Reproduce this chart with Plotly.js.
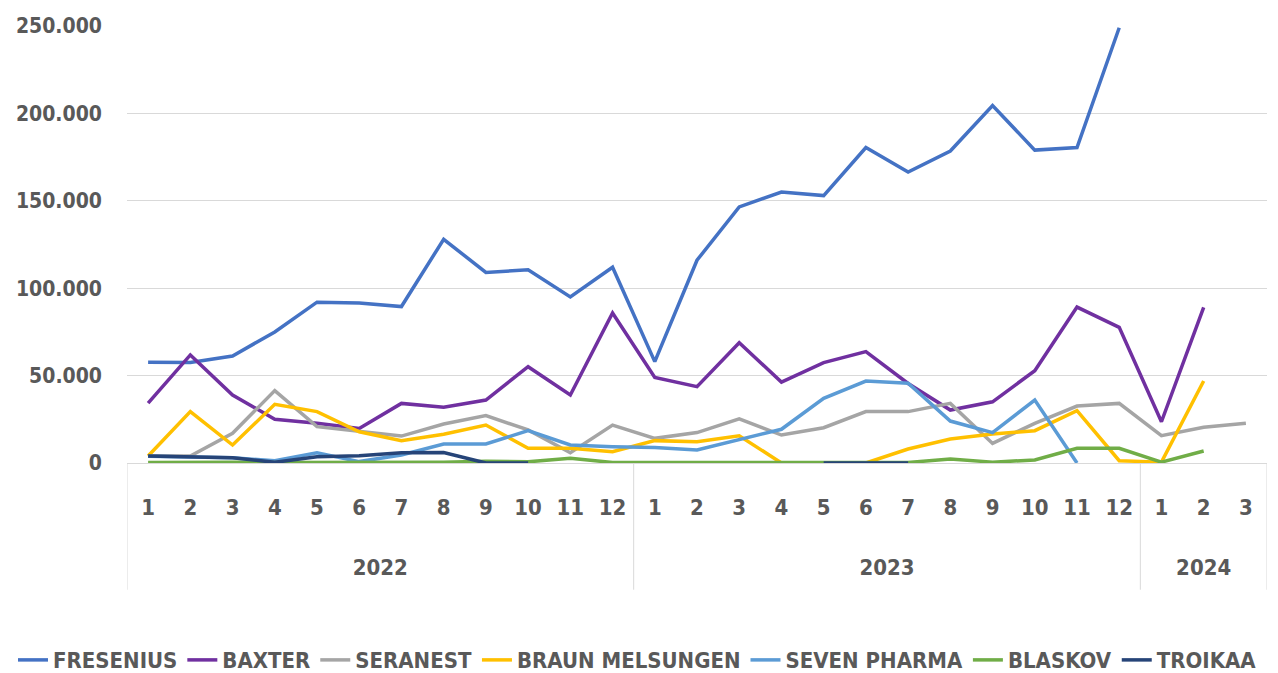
<!DOCTYPE html>
<html><head><meta charset="utf-8">
<script src="https://cdn.plot.ly/plotly-3.0.1.min.js"></script>
<style>html,body{margin:0;padding:0;background:#fff;}#chart{width:1278px;height:673px;}</style>
</head><body><div id="chart"></div>
<script>
const years = ['2022','2022','2022','2022','2022','2022','2022','2022','2022','2022','2022','2022',
               '2023','2023','2023','2023','2023','2023','2023','2023','2023','2023','2023','2023',
               '2024','2024','2024'];
const months = ['1','2','3','4','5','6','7','8','9','10','11','12',
                '1','2','3','4','5','6','7','8','9','10','11','12',
                '1','2','3'];

const fresenius = [57700,57500,61200,75000,92000,91500,89500,128000,109000,110500,95000,112000,
                   58000,116000,146500,155000,153000,180500,166500,178500,204500,179000,180500,249000,
                   null,null,null];
const baxter = [34300,61800,38900,25000,22700,19800,34100,31900,36000,55100,38900,85800,
                49000,43700,68800,46300,57400,63700,45500,30300,35000,52800,89200,77600,
                23600,89000,null];
const seranest = [4000,4000,17000,41400,20800,17900,15400,22300,27100,18900,5900,21700,
                  14100,17400,25200,16000,20200,29400,29400,34100,11200,22700,32600,34100,
                  15600,20400,22700];
const braun = [4000,29400,10300,33600,29400,17900,12800,16400,21700,8400,8400,6500,
               12800,12200,15600,0,0,0,8000,13700,16600,18500,29900,1300,
               500,46900,null];
const sevenPharma = [3800,3500,3000,1300,5900,800,4600,10900,10900,18500,10300,9300,
                     8800,7400,13500,19300,37000,46900,45600,24000,17400,36000,0,null,
                     null,null,null];
const blaskov = [300,500,500,300,300,300,300,500,1000,700,2700,300,
                 300,300,300,300,500,300,300,2300,500,1700,8400,8400,
                 500,6900,null];
const troikaa = [4000,3600,3000,400,3600,4200,5900,6000,0,0,null,null,
                 null,null,null,null,0,0,0,null,null,null,null,null,
                 null,null,null];

const seriesNames = ['FRESENIUS','BAXTER','SERANEST','BRAUN MELSUNGEN','SEVEN PHARMA','BLASKOV','TROIKAA'];
const seriesData = [fresenius, baxter, seranest, braun, sevenPharma, blaskov, troikaa];
const seriesColors = ['#4472C4','#7030A0','#A5A5A5','#FFC000','#5B9BD5','#70AD47','#264478'];

const FONT = 'DejaVu Sans Condensed, DejaVu Sans, sans-serif';
const TXT = '#595959';
const GRID = '#D9D9D9';

// year labels carry leading line breaks so they sit lower, as in the original
const yearLabels = years.map(y => '<br><br>' + y);

const traces = seriesNames.map((n,i)=>({
  type:'scatter', mode:'lines', name:n,
  x:[yearLabels, months], y:seriesData[i],
  line:{color:seriesColors[i], width:3.5},
  connectgaps:false
}));

const divider = (xc) => ({type:'line', xref:'x', yref:'paper', x0:xc, x1:xc, y0:0, y1:-0.29,
                           line:{color:GRID, width:1}});

const layout = {
  width:1278, height:673,
  margin:{l:127, r:11, t:26, b:210, autoexpand:false},
  paper_bgcolor:'#fff', plot_bgcolor:'#fff',
  separators:',.',
  font:{family:FONT, color:TXT, size:21, weight:700},
  showlegend:true,
  legend:{orientation:'h', xref:'paper', yref:'paper', x:-0.1, xanchor:'left',
          y:-0.451, yanchor:'middle', font:{family:FONT, size:22, color:TXT, weight:700},
          itemwidth:30, tracegroupgap:0, itemclick:false},
  xaxis:{type:'multicategory', range:[-0.5, 26.5], showgrid:false, showline:true, linecolor:GRID, linewidth:1,
         showdividers:false, automargin:false,
         ticklabelstandoff:25,
         tickfont:{family:FONT, size:22, color:TXT, weight:700}, zeroline:false},
  yaxis:{range:[0,250000], tickvals:[0,50000,100000,150000,200000,250000], tickformat:',d',
         showgrid:true, gridcolor:GRID, gridwidth:1, zeroline:false, showline:false,
         ticklabelstandoff:24, automargin:false,
         tickfont:{family:FONT, size:21, color:TXT, weight:700}},
  shapes:[divider(-0.5), divider(11.5), divider(23.5), divider(26.5)]
};

Plotly.newPlot('chart', traces, layout, {displayModeBar:false, staticPlot:true});
</script>
</body></html>
